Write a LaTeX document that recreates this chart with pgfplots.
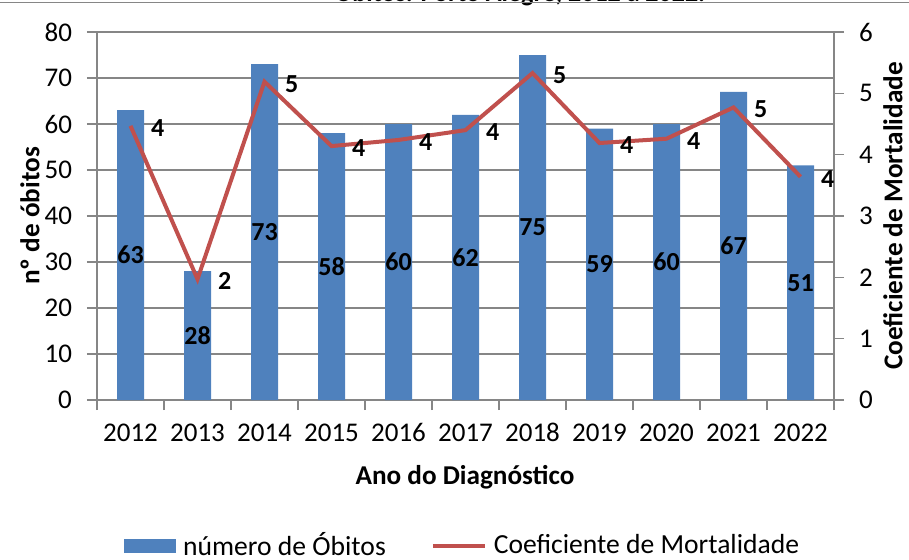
\documentclass[border=0pt]{standalone}
\usepackage{pgfplots}
\usepackage{pgfplotstable}
\pgfplotsset{compat=1.18}
\usepackage{fontspec}
\setmainfont{Carlito}
\definecolor{barblue}{HTML}{4F81BD}
\definecolor{linered}{HTML}{C0504D}
\definecolor{gridgray}{HTML}{868686}

\pgfplotstableread{
x y c
0 63 4.47
1 28 1.97
2 73 5.19
3 58 4.14
4 60 4.24
5 62 4.40
6 75 5.33
7 59 4.19
8 60 4.26
9 67 4.77
10 51 3.64
}\datatable

\pgfplotsset{
  common/.style={
    scale only axis, width=368.5pt, height=184pt,
    at={(48.5pt,-200pt)}, anchor=south west,
    xmin=-0.5, xmax=10.5,
    /pgf/number format/assume math mode=true,
    axis line style={gridgray, line width=0.6pt},
    tick style={gridgray, line width=0.6pt},
    tick align=outside, major tick length=5pt, minor tick length=5pt,
    ticklabel style={font=\fontsize{13.5}{15}\selectfont},
    label style={font=\bfseries\fontsize{13.6}{15}\selectfont},
  }
}

\begin{document}
\begin{tikzpicture}
\begin{axis}[common,
  axis x line*=bottom, axis y line*=left,
  ymin=0, ymax=80, ytick={0,10,...,80},
  ymajorgrids, grid style={gridgray, line width=0.6pt},
  xtick={0,...,10},
  xticklabels={2012,2013,2014,2015,2016,2017,2018,2019,2020,2021,2022},
  xticklabel style={text height=9pt, text depth=0pt, yshift=-3pt},
  yticklabel style={xshift=-4pt},
  major x tick style={draw=none},
  minor xtick={-0.5,0.5,...,10.5},
  xlabel={Ano do Diagnóstico},
  xlabel style={at={(axis description cs:0.4993,-0.2092)}, anchor=center},
  ylabel={nº de óbitos},
  ylabel style={at={(axis description cs:-0.0909,0.5)}, anchor=center},
  legend style={at={(axis description cs:0.4995,-0.396)}, anchor=center, draw=none,
    legend columns=2, font=\fontsize{13.8}{15}\selectfont,
    nodes={inner xsep=3.5pt},
    /tikz/every even column/.append style={column sep=19pt}},
]
\addplot[ybar, bar width=13.5pt, fill=barblue, draw=none,
  legend image code/.code={\fill[barblue] (0pt,-3.5pt) rectangle (26pt,3.5pt);}]
  table[x=x, y=y]{\datatable};
\addlegendentry{número de Óbitos}
\addlegendimage{legend image code/.code={\draw[linered, line width=2pt] (0pt,0pt) -- (26pt,0pt);}}
\addlegendentry{Coeficiente de Mortalidade}
\addplot[draw=none, mark=none, forget plot, point meta=explicit,
  nodes near coords={\pgfmathprintnumber{\pgfplotspointmeta}},
  every node near coord/.style={anchor=center, font=\bfseries\fontsize{13}{15}\selectfont, text=black}]
  table[x=x, y expr=\thisrow{y}/2, meta=y]{\datatable};
\end{axis}
\begin{axis}[common,
  axis y line*=right, axis x line=none,
  ymin=0, ymax=6, ytick={0,...,6},
  yticklabel style={xshift=4pt},
  ylabel={Coeficiente de Mortalidade},
  ylabel style={at={(axis description cs:1.080,0.5)}, anchor=center, rotate=0},
]
\addplot[linered, line width=2pt, mark=none, point meta=y,
  nodes near coords={\pgfmathprintnumber[fixed,precision=0]{\pgfplotspointmeta}},
  every node near coord/.style={anchor=west, xshift=6pt, yshift=-1pt, font=\bfseries\fontsize{13}{15}\selectfont, text=black}]
  table[x=x, y=c]{\datatable};
\end{axis}
\node[font=\bfseries\fontsize{13}{15}\selectfont, anchor=base] at (260pt,-1pt) {Óbitos. Porto Alegre, 2012 a 2022.};
\draw[gridgray, line width=0.6pt] (0pt,-1.3pt) -- (454.5pt,-1.3pt);
\pgfresetboundingbox
\path[use as bounding box] (0pt,0pt) rectangle (454.5pt,-280pt);
\end{tikzpicture}
\end{document}
